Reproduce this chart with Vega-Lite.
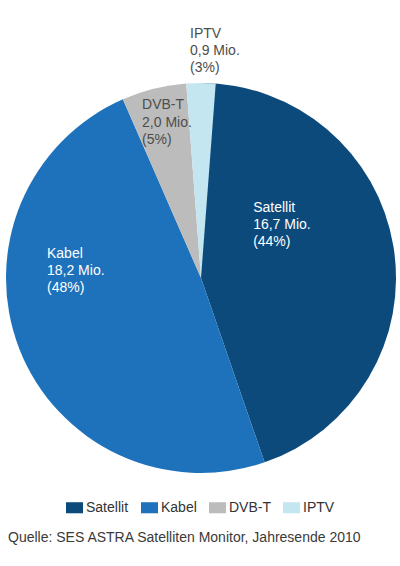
{
  "$schema": "https://vega.github.io/schema/vega-lite/v6.json",
  "width": 390,
  "height": 390,
  "autosize": "none",
  "padding": {"left": 6, "top": 83, "right": 4, "bottom": 93},
  "background": "white",
  "title": {
    "text": "Quelle: SES ASTRA Satelliten Monitor, Jahresende 2010",
    "orient": "bottom",
    "anchor": "start",
    "frame": "group",
    "offset": 16,
    "dx": 2,
    "font": "Liberation Sans",
    "fontSize": 14,
    "fontWeight": "normal",
    "color": "#3a3a3a"
  },
  "data": {
    "values": [
      {"Empfang": "Satellit", "Mio": 16.7, "label": "Satellit|16,7 Mio.|(44%)"},
      {"Empfang": "Kabel", "Mio": 18.2, "label": "Kabel|18,2 Mio.|(48%)"},
      {"Empfang": "DVB-T", "Mio": 2.0, "label": "DVB-T|2,0 Mio.|(5%)"},
      {"Empfang": "IPTV", "Mio": 0.9, "label": "IPTV|0,9 Mio.|(3%)"}
    ]
  },
  "transform": [
    {"window": [{"op": "row_number", "as": "idx"}]},
    {"stack": "Mio", "groupby": [], "sort": [{"field": "idx"}], "as": ["t0", "t1"]},
    {"calculate": "(datum.t0 + datum.t1) / 2", "as": "tm"}
  ],
  "layer": [
    {
      "mark": {"type": "arc", "outerRadius": 195},
      "encoding": {
        "theta": {"field": "t0", "type": "quantitative", "scale": {"nice": false, "zero": true}},
        "theta2": {"field": "t1"},
        "color": {
          "field": "Empfang",
          "type": "nominal",
          "sort": ["Satellit", "Kabel", "DVB-T", "IPTV"],
          "scale": {
            "domain": ["Satellit", "Kabel", "DVB-T", "IPTV"],
            "range": ["#0c4a7c", "#1e71bb", "#bcbcbc", "#c4e6f0"]
          },
          "legend": {
            "orient": "none",
            "legendX": 60,
            "legendY": 416,
            "direction": "horizontal",
            "title": null,
            "symbolType": "M-1,-0.65H1V0.65H-1Z",
            "symbolSize": 289,
            "symbolStrokeWidth": 0,
            "symbolOpacity": 1,
            "labelFont": "Liberation Sans",
            "labelFontSize": 14,
            "labelColor": "#333333",
            "labelOffset": 3,
            "columnPadding": 12,
            "padding": 0
          }
        }
      }
    },
    {
      "transform": [{"filter": "datum.Empfang == 'Satellit'"}],
      "mark": {"type": "text", "radius": 63, "dx": -10, "dy": -56, "align": "left", "baseline": "alphabetic", "lineBreak": "|", "lineHeight": 17, "font": "Liberation Sans", "fontSize": 14, "color": "white"},
      "encoding": {"theta": {"field": "tm", "type": "quantitative"}, "text": {"field": "label"}}
    },
    {
      "transform": [{"filter": "datum.Empfang == 'Kabel'"}],
      "mark": {"type": "text", "radius": 131, "dx": -32, "dy": -68, "align": "left", "baseline": "alphabetic", "lineBreak": "|", "lineHeight": 17, "font": "Liberation Sans", "fontSize": 14, "color": "white"},
      "encoding": {"theta": {"field": "tm", "type": "quantitative"}, "text": {"field": "label"}}
    },
    {
      "transform": [{"filter": "datum.Empfang == 'DVB-T'"}],
      "mark": {"type": "text", "radius": 182, "dx": -15, "dy": 8, "align": "left", "baseline": "alphabetic", "lineBreak": "|", "lineHeight": 17.5, "font": "Liberation Sans", "fontSize": 14, "color": "#4d4d4d"},
      "encoding": {"theta": {"field": "tm", "type": "quantitative"}, "text": {"field": "label"}}
    },
    {
      "transform": [{"filter": "datum.Empfang == 'IPTV'"}],
      "mark": {"type": "text", "radius": 243, "dx": -11, "dy": 3, "align": "left", "baseline": "alphabetic", "lineBreak": "|", "lineHeight": 17, "font": "Liberation Sans", "fontSize": 14, "color": "#4d4d4d"},
      "encoding": {"theta": {"field": "tm", "type": "quantitative"}, "text": {"field": "label"}}
    }
  ],
  "config": {"view": {"stroke": null}}
}
